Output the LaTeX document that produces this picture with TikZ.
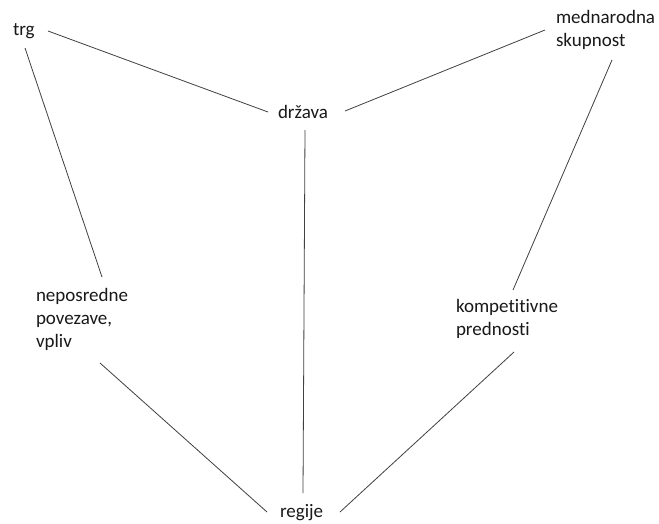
\documentclass[tikz,border=0pt]{standalone}
\usepackage{fontspec}
\setmainfont{Carlito}[Ligatures={NoCommon}]
\usetikzlibrary{calc}
\begin{document}
\begin{tikzpicture}[x=1pt,y=-1pt,
  lbl/.style={inner sep=0pt, outer sep=0pt, text=black!90, font=\fontsize{19}{23.2}\selectfont},
  multi/.style={lbl, align=left, anchor=north west},
  single/.style={lbl, anchor=base west},
  link/.style={draw=black!75, line width=0.8pt}]
\useasboundingbox[fill=white] (0,0) rectangle (659,523);
\node[single] (trg) at (13,35) {trg};
\node[single] (drzava) at (278,118) {država};
\node[multi] (medn) at (556,10) {mednarodna\\skupnost};
\node[multi] (nep) at (36,288) {neposredne\\povezave,\\vpliv};
\node[multi] (komp) at (456,299) {kompetitivne\\prednosti};
\node[single] (regije) at (280,517) {regije};
% connectors
\draw[link] ($(trg.base west)+(35,-4)$) -- ($(drzava.base west)+(-10,-6)$);
\draw[link] ($(medn.north west)+(-11,20)$) -- ($(drzava.base west)+(67,-7)$);
\draw[link] ($(drzava.base west)+(27,12)$) -- ($(regije.base west)+(23,-24)$);
\draw[link] ($(trg.base west)+(12,13)$) -- ($(nep.north west)+(66,-11)$);
\draw[link] ($(medn.north west)+(56,50)$) -- ($(komp.north west)+(57,-9)$);
\draw[link] ($(nep.north west)+(64,75)$) -- ($(regije.base west)+(-13,-5)$);
\draw[link] ($(komp.north west)+(58,53)$) -- ($(regije.base west)+(60,-5)$);
\end{tikzpicture}
\end{document}
